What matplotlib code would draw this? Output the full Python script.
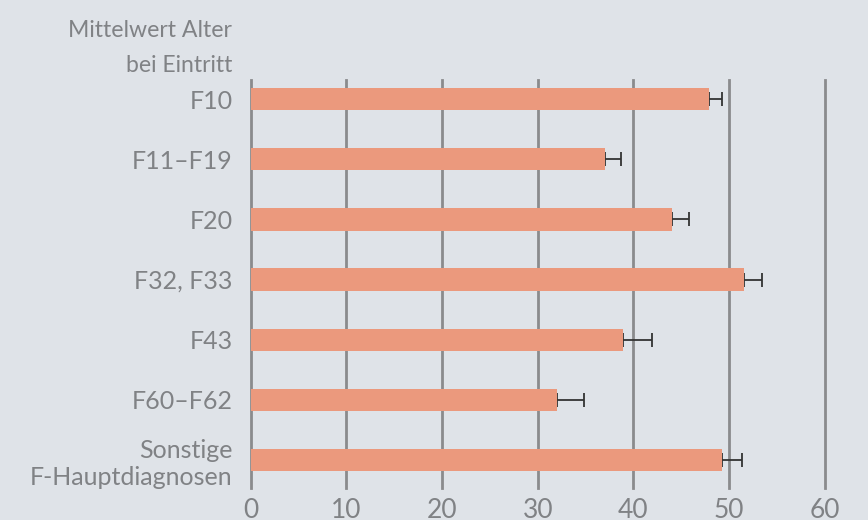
import matplotlib as mpl
import matplotlib.pyplot as plt

mpl.rcParams['font.family'] = ['Lato', 'DejaVu Sans']

categories = ['F10', 'F11–F19', 'F20', 'F32, F33', 'F43', 'F60–F62',
              'Sonstige\nF-Hauptdiagnosen']
means = [47.9, 37.0, 44.0, 51.6, 38.9, 32.0, 49.3]
errors = [1.4, 1.7, 1.8, 1.9, 3.0, 2.8, 2.1]
xticks = [0, 10, 20, 30, 40, 50, 60]

bg = '#dfe3e8'
bar_col = '#eb997d'
grid_col = '#8a8b8d'
text_col = '#808285'

fig = plt.figure(figsize=(8.68, 5.2), dpi=100, facecolor=bg)
ax = fig.add_axes([0.289, 0.0615, 0.661, 0.7845], facecolor=bg)

pos = list(range(len(categories)))

# gridlines drawn as vertical lines across whole axes
for t in xticks:
    ax.axvline(t, color=grid_col, lw=2, zorder=1, clip_on=False)

ax.errorbar(means, pos, xerr=[[0] * len(means), errors], fmt='none',
            ecolor='#333333', elinewidth=1.3, capsize=5, capthick=1.3, zorder=2)
ax.barh(pos, means, height=0.37, color=bar_col, zorder=3)

ax.set_xlim(0, 60)
ax.set_ylim(6.47, -0.32)
ax.set_xticks(xticks)
ax.set_yticks(pos)
ax.set_yticklabels(categories, linespacing=1.2)
for s in ax.spines.values():
    s.set_visible(False)
ax.tick_params(length=0, labelsize=18, colors=text_col, pad=13)
ax.tick_params(axis='x', pad=7, labelsize=19)

fig.text(232 / 868, 1 - 37 / 520, 'Mittelwert Alter', ha='right',
         va='baseline', fontsize=16.6, color=text_col)
fig.text(232 / 868, 1 - 72 / 520, 'bei Eintritt', ha='right',
         va='baseline', fontsize=16.6, color=text_col)

fig.savefig('out.png', dpi=100, facecolor=bg)
